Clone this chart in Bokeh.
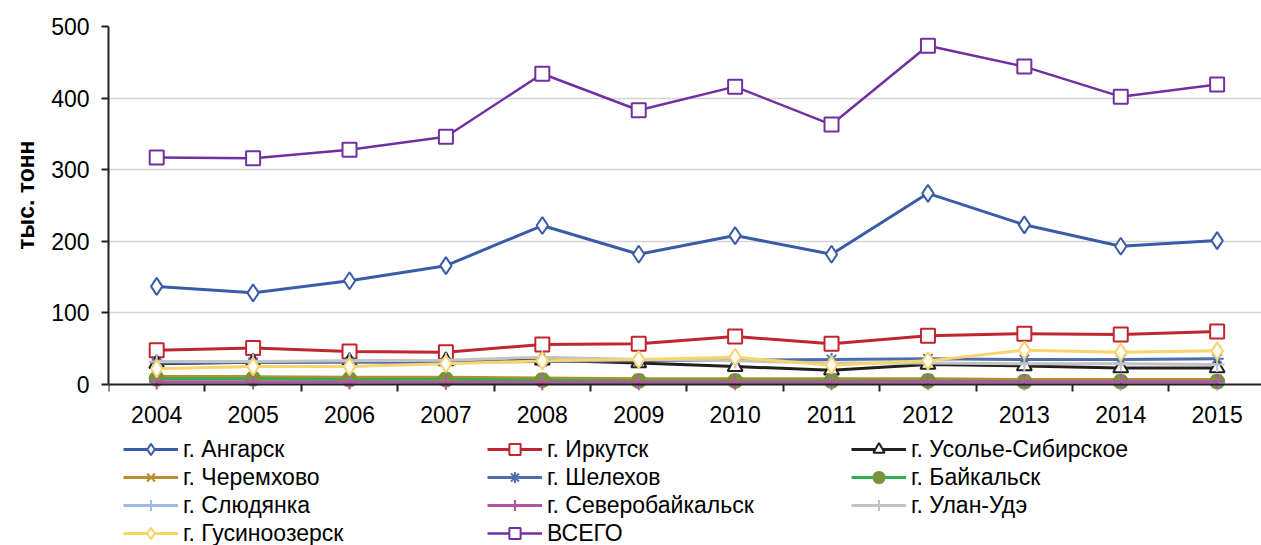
from bokeh.plotting import figure
from bokeh.models import (FixedTicker, Legend, LegendItem, Range1d, Title)
from bokeh.embed import file_html
from bokeh.resources import INLINE

years = ["2004", "2005", "2006", "2007", "2008", "2009", "2010", "2011", "2012", "2013", "2014", "2015"]

angarsk = [137, 128, 145, 166, 222, 182, 208, 182, 267, 223, 193, 201]
irkutsk = [48, 51, 46, 45, 56, 57, 67, 57, 68, 71, 70, 74]
usolye = [29, 31, 32, 33, 34, 30, 25, 20, 28, 26, 23, 23]
cheremkhovo = [11, 11, 10, 10, 9, 8, 8, 8, 8, 7, 7, 7]
shelekhov = [30, 31, 31, 31, 32, 33, 34, 35, 36, 35, 35, 36]
baikalsk = [8, 8, 7, 7, 6, 5, 5, 5, 5, 4, 4, 4]
slyudyanka = [3, 3, 3, 3, 2, 2, 2, 2, 2, 2, 2, 2]
severobaikalsk = [4, 4, 4, 3, 3, 3, 3, 3, 4, 4, 4, 4]
ulan_ude = [32, 32, 33, 34, 38, 35, 33, 30, 30, 29, 29, 28]
gusinoozersk = [22, 25, 25, 29, 33, 35, 38, 27, 33, 48, 45, 47]
total = [317, 316, 328, 346, 434, 383, 416, 363, 473, 444, 402, 419]

series = [
    ("г. Ангарск", angarsk, "#3a5ba8", "diamond", "white", "#3a5ba8", 17),
    ("г. Иркутск", irkutsk, "#c0262d", "square", "white", "#c0262d", 14),
    ("г. Усолье-Сибирское", usolye, "#231f20", "triangle", "white", "#231f20", 15),
    ("г. Черемхово", cheremkhovo, "#b98d2c", "x", None, "#b98d2c", 13),
    ("г. Шелехов", shelekhov, "#4a6eb0", "asterisk", None, "#4a6eb0", 13),
    ("г. Байкальск", baikalsk, "#2fb150", "circle", "#77933c", "#77933c", 14),
    ("г. Слюдянка", slyudyanka, "#9dbbe3", "cross", None, "#9dbbe3", 15),
    ("г. Северобайкальск", severobaikalsk, "#b3559f", "cross", None, "#b3559f", 15),
    ("г. Улан-Удэ", ulan_ude, "#c3c3c3", "cross", None, "#c3c3c3", 15),
    ("г. Гусиноозерск", gusinoozersk, "#f8d46c", "diamond", "white", "#f8d46c", 17),
    ("ВСЕГО", total, "#7030a0", "square", "white", "#7030a0", 14),
]

xs = [i + 0.5 for i in range(len(years))]

FONT = "Liberation Sans"

# frame runs from y=26 (value 500) to the bottom of the canvas; value 0 sits at y=384
Y_BOTTOM = -161 * 500 / 358

p = figure(width=1261, height=545, output_backend="svg", toolbar_location=None,
           x_range=Range1d(0, 11.96), y_range=Range1d(Y_BOTTOM, 500),
           min_border_left=107, min_border_right=0, min_border_top=26, min_border_bottom=0)
p.outline_line_color = None
p.background_fill_color = "white"

# y axis
p.yaxis.ticker = FixedTicker(ticks=[0, 100, 200, 300, 400, 500])
p.yaxis.bounds = (0, 500)
p.yaxis.axis_line_color = "#231f20"
p.yaxis.axis_line_width = 2
p.yaxis.major_tick_line_color = "#231f20"
p.yaxis.major_tick_line_width = 2
p.yaxis.major_tick_out = 7
p.yaxis.major_tick_in = 0
p.yaxis.minor_tick_line_color = None
p.yaxis.major_label_text_font = FONT
p.yaxis.major_label_text_font_size = "23px"
p.yaxis.major_label_text_color = "#000000"
p.yaxis.major_label_standoff = 12

# y axis title, placed on the left side near the top
ytitle = Title(text="тыс. тонн", align="right", offset=114,
               text_font=FONT, text_font_style="bold", text_font_size="23px",
               text_color="#000000", standoff=20)
p.add_layout(ytitle, "left")

# x axis, drawn at value 0 inside the frame
p.xaxis.fixed_location = 0
p.xaxis.ticker = FixedTicker(ticks=xs, minor_ticks=list(range(0, 13)))
p.xaxis.major_label_overrides = {x: y for x, y in zip(xs, years)}
p.xaxis.axis_line_color = "#231f20"
p.xaxis.axis_line_width = 2
p.xaxis.major_tick_line_color = None
p.xaxis.major_tick_out = 0
p.xaxis.major_tick_in = 0
p.xaxis.minor_tick_line_color = "#231f20"
p.xaxis.minor_tick_line_width = 2
p.xaxis.minor_tick_out = 7
p.xaxis.minor_tick_in = 0
p.xaxis.major_label_text_font = FONT
p.xaxis.major_label_text_font_size = "23px"
p.xaxis.major_label_text_color = "#000000"
p.xaxis.major_label_standoff = 14

p.xgrid.grid_line_color = None
p.ygrid.ticker = FixedTicker(ticks=[100, 200, 300, 400, 500])
p.ygrid.grid_line_color = "#d4d4d4"
p.ygrid.grid_line_width = 1.5

items = []
for name, vals, lc, marker, fill, mline, size in series:
    lw = 2.5 if name == "ВСЕГО" else 3
    lr = p.line(xs, vals, line_color=lc, line_width=lw)
    sr = p.scatter(xs, vals, marker=marker, size=size,
                   fill_color=fill if fill else None,
                   line_color=mline, line_width=2)
    items.append(LegendItem(label=name, renderers=[lr, sr]))

legend = Legend(items=items, location=(15, -2), orientation="horizontal", ncols=3,
                glyph_width=55, glyph_height=28, label_height=28, label_width=304,
                label_standoff=5, spacing=0, padding=0, margin=0,
                border_line_color=None, background_fill_alpha=0,
                label_text_font=FONT, label_text_font_size="23px",
                label_text_color="#000000")
p.add_layout(legend, "center")

open("out.html", "w").write(file_html(p, INLINE))
